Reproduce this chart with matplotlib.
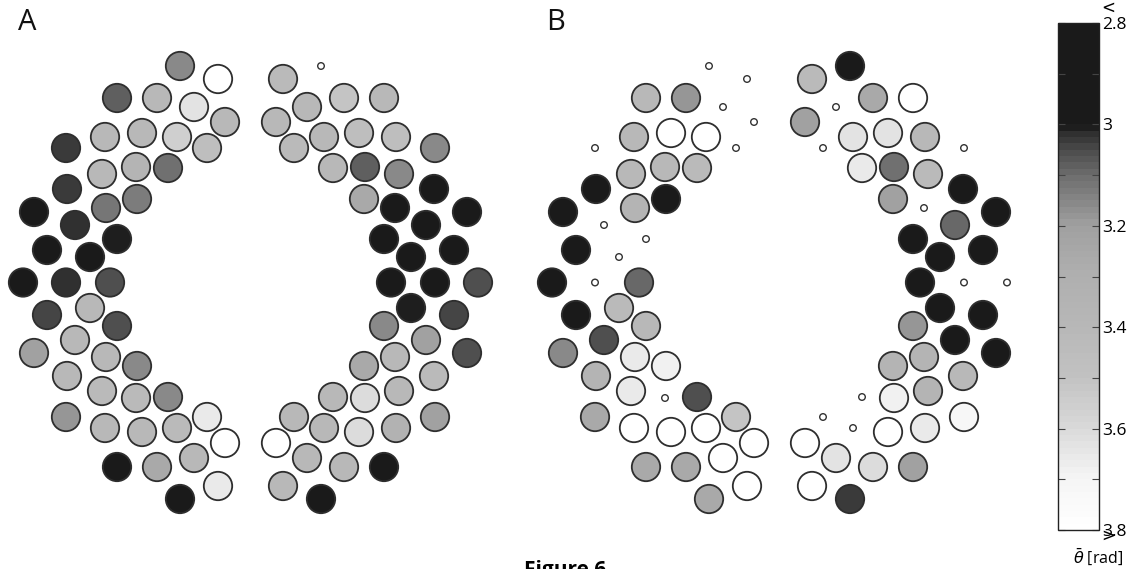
import numpy as np
import matplotlib
matplotlib.use("Agg")
import matplotlib.pyplot as plt
from matplotlib.patches import Circle
from matplotlib.colors import ListedColormap, Normalize
from matplotlib.cm import ScalarMappable

plt.rcParams['font.family'] = ['Open Sans', 'DejaVu Sans']

nan = np.nan

# electrode layout, left hemisphere (right one is its mirror image), layout units
left_x = [-70.5, -32.5, -133.5, -93.5, -56.5, -25.5, -145.5, -108.5, -73.5, -43.5, -184.5,
          -148.5, -114.5, -82.5, -183.5, -144.5, -113.5, -216.5, -175.5, -133.5, -203.5, -160.5,
          -227.5, -184.5, -140.5,
          -70.5, -32.5, -133.5, -93.5, -56.5, -25.5, -145.5, -108.5, -73.5, -43.5, -184.5,
          -148.5, -114.5, -82.5, -183.5, -144.5, -113.5, -216.5, -175.5, -133.5, -203.5, -160.5]
left_y = [216.5, 203.5, 184.5, 184.5, 175.5, 160.5, 145.5, 149.5, 145.5, 134.5, 134.5,
          108.5, 115.5, 114.5, 93.5, 74.5, 83.5, 70.5, 57.5, 43.5, 32.5, 25.5,
          0, 0, 0,
          -216.5, -203.5, -184.5, -184.5, -175.5, -160.5, -145.5, -149.5, -145.5, -134.5, -134.5,
          -108.5, -115.5, -114.5, -93.5, -74.5, -83.5, -70.5, -57.5, -43.5, -32.5, -25.5]

# mean phase theta [rad]; nan = no value (drawn as small dot)
a_left = [3.15, 3.8, 3.08, 3.4, 3.63, 3.4, 3.4, 3.4, 3.55, 3.45, 3.03,
          3.4, 3.35, 3.1, 3.03, 3.12, 3.13, 2.9, 3.02, 3.01, 2.9, 2.9,
          2.9, 3.02, 3.06,
          2.9, 3.66, 2.9, 3.25, 3.4, 3.8, 3.4, 3.4, 3.42, 3.65, 3.18,
          3.42, 3.42, 3.15, 3.4, 3.4, 3.15, 3.2, 3.4, 3.06, 3.04, 3.4]
a_right = [nan, 3.42, 3.4, 3.5, 3.4, 3.4, 3.45, 3.45, 3.4, 3.42, 3.15,
           3.15, 3.08, 3.4, 2.9, 2.9, 3.25, 2.9, 2.9, 2.9, 2.9, 2.9,
           3.06, 2.9, 2.9,
           2.9, 3.4, 2.9, 3.4, 3.4, 3.8, 3.33, 3.6, 3.4, 3.4, 3.2,
           3.4, 3.6, 3.4, 3.42, 3.4, 3.25, 3.06, 3.2, 3.15, 3.04, 3.0]
b_left = [nan, nan, 3.4, 3.18, nan, nan, 3.4, 3.8, 3.8, nan, nan,
          3.4, 3.4, 3.42, 2.9, 3.35, 2.9, 2.9, nan, nan, 2.9, nan,
          2.9, nan, 3.09,
          3.25, 3.8, 3.25, 3.25, 3.8, 3.8, 3.8, 3.8, 3.8, 3.5, 3.25,
          3.66, nan, 3.06, 3.35, 3.66, 3.68, 3.15, 3.06, 3.4, 2.9, 3.42]
b_right = [2.9, 3.42, 3.8, 3.25, nan, 3.2, 3.4, 3.63, 3.63, nan, nan,
           3.42, 3.1, 3.65, 2.9, nan, 3.2, 2.9, 3.09, 2.9, 2.9, 2.9,
           nan, nan, 2.9,
           3.03, 3.8, 3.2, 3.6, 3.63, 3.8, 3.65, 3.8, nan, nan, 3.72,
           3.35, 3.68, nan, 3.4, 3.35, 3.35, 2.9, 2.9, 3.18, 2.9, 2.9]

cb_ticks = [2.8, 2.9, 3.0, 3.1, 3.2, 3.3, 3.4, 3.5, 3.6, 3.7, 3.8]
cb_labels = ["2.8", "", "3", "", "3.2", "", "3.4", "", "3.6", "", "3.8"]

# stepped grey scale
anchor_v = [2.8, 3.0, 3.01, 3.05, 3.1, 3.15, 3.2, 3.3, 3.4, 3.5, 3.6, 3.7, 3.8]
anchor_g = [0.10, 0.10, 0.17, 0.30, 0.43, 0.53, 0.63, 0.69, 0.72, 0.76, 0.85, 0.96, 1.0]
lev = np.linspace(2.8, 3.8, 80)
gv = np.interp(lev, anchor_v, anchor_g)
cmap = ListedColormap(np.column_stack([gv, gv, gv]))
norm = Normalize(2.8, 3.8)

W, H = 1137, 569
fig = plt.figure(figsize=(W / 100, H / 100), dpi=100)


def panel(rect_px, xlim, vals_l, vals_r, letter):
    x0, x1 = rect_px
    ax = fig.add_axes([x0 / W, 0, (x1 - x0) / W, 1])
    ax.set_xlim(*xlim)
    ax.set_ylim(-286.5, 282.5)
    ax.axis('off')
    xs = list(left_x) + [-x for x in left_x]
    ys = list(left_y) + list(left_y)
    vs = list(vals_l) + list(vals_r)
    for x, y, v in zip(xs, ys, vs):
        if np.isnan(v):
            ax.add_patch(Circle((x, y), 3.3, facecolor='white', edgecolor='#333333', lw=1.0))
        else:
            ax.add_patch(Circle((x, y), 14.2, facecolor=cmap(norm(v)), edgecolor='#2e2e2e', lw=1.3))
    ax.text(xlim[0] + 27, 282.5 - 23, letter, fontsize=21, ha='center', va='center',
            color='#111111')
    return ax


panel((0, 529), (-250.5, 278.5), a_left, a_right, "A")
panel((529, 1045), (-250.5, 265.5), b_left, b_right, "B")

# colour bar
cax = fig.add_axes([1058 / W, (H - 530) / H, 41 / W, 507 / H])
cb = fig.colorbar(ScalarMappable(norm=norm, cmap=cmap), cax=cax)
cb.set_ticks(cb_ticks)
cb.set_ticklabels(cb_labels)
cax.invert_yaxis()
cax.tick_params(axis='y', direction='in', length=5, width=0.8, color='#444444',
                left=True, right=True, labelsize=12.5, pad=2)
cb.outline.set_linewidth(1.0)
cb.outline.set_edgecolor('#222222')
fig.text(1108 / W, 1 - 8 / H, "<", fontsize=12, family='DejaVu Sans',
         ha='center', va='center')
fig.text(1108 / W, 1 - 536 / H, ">", fontsize=12, family='DejaVu Sans',
         ha='center', va='center')
fig.text(1098 / W, 1 - 557 / H, r"$\bar{\theta}$ [rad]", fontsize=11.5,
         ha='center', va='center')

fig.text(565 / W, 1 - 560 / H, "Figure 6", fontsize=15, fontweight='bold',
         ha='center', va='top')

fig.savefig("out.png", dpi=100)
